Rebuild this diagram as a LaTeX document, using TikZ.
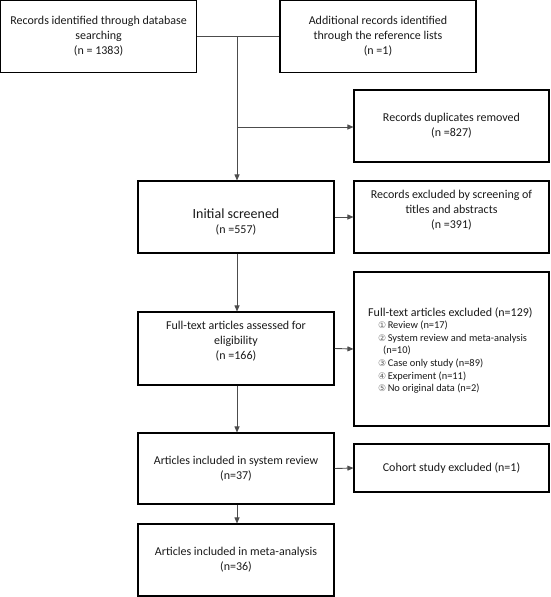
\documentclass[tikz,border=0pt]{standalone}
\usepackage{fontspec}
\setmainfont{Carlito}
\newfontfamily\circfont{DejaVu Sans}
\usetikzlibrary{arrows.meta}
\newcommand{\cnum}[1]{{\circfont\fontsize{9}{10}\selectfont\color{black!60}#1}\hspace{1.5pt}}
\begin{document}
\begin{tikzpicture}[x=1pt,y=-1pt,
  box/.style={draw=black, line width=1.1pt, inner sep=0pt, align=center,
    font=\fontsize{12}{15}\selectfont, text=black!90},
  wbox/.style={box, minimum width=196pt, minimum height=72pt},
  rbox/.style={box, minimum width=195pt, minimum height=72pt},
  txt/.style={inner sep=0pt, align=center, font=\fontsize{12}{15}\selectfont, text=black!90},
  conn/.style={draw=black!70, line width=0.9pt},
  arr/.style={conn, -{Triangle[length=6pt,width=5pt]}}
]
\useasboundingbox (0,0) rectangle (550,597);
\node[wbox] (A) at (98.6,36.6) {Records identified through database\\searching\\(n = 1383)};
\node[wbox] (B) at (378,36.6) {Additional records identified\\through the reference lists\\(n =1)};
\node[rbox] (dup) at (451.5,126) {Records duplicates removed\\(n =827)};
\node[wbox] (init) at (236,217) {};
\node[txt] (initt) at (236,222) {{\fontsize{14}{16}\selectfont Initial screened}\\(n =557)};
\node[rbox] (ex1) at (451.5,217) {};
\node[txt] (ex1t) at (451.5,210) {Records excluded by screening of\\titles and abstracts\\(n =391)};
\node[wbox, minimum height=73pt] (assess) at (236,348.5) {};
\node[txt] (assesst) at (236,341) {Full-text articles assessed for\\eligibility\\(n =166)};
\node[box, minimum width=195pt, minimum height=154pt] (ex2) at (451.5,349) {};
\node[anchor=west, inner sep=0pt, align=left, text=black!90, font=\fontsize{10.4}{12.6}\selectfont] (ex2t) at (368,350.5)
  {{\fontsize{12}{13}\selectfont Full-text articles excluded (n=129)}\\
   \hspace{10pt}\cnum{①}Review (n=17)\\
   \hspace{10pt}\cnum{②}System review and meta-analysis\\
   \hspace{15pt}(n=10)\\
   \hspace{10pt}\cnum{③}Case only study (n=89)\\
   \hspace{10pt}\cnum{④}Experiment (n=11)\\
   \hspace{10pt}\cnum{⑤}No original data (n=2)};
\node[wbox, minimum height=71pt] (sys) at (236,468.5) {Articles included in system review\\(n=37)};
\node[box, minimum width=195pt, minimum height=48pt] (coh) at (451.5,468) {Cohort study excluded (n=1)};
\node[wbox] (meta) at (236,560) {Articles included in meta-analysis\\(n=36)};

\coordinate (j) at (237,36.6);
\coordinate (jd) at (237,127);
\draw[conn] (A.east) -- (B.west);
\draw[arr] (j) -- (j |- init.north);
\draw[arr] (jd) -- (jd -| dup.west);
\draw[arr] (init.east) -- (ex1.west);
\draw[arr] (init.south -| j) -- (assess.north -| j);
\draw[arr] (assess.east) -- (ex2.west);
\draw[arr] (assess.south -| j) -- (sys.north -| j);
\draw[arr] (sys.east) -- (coh.west);
\draw[arr] (sys.south -| j) -- (meta.north -| j);
\end{tikzpicture}
\end{document}
